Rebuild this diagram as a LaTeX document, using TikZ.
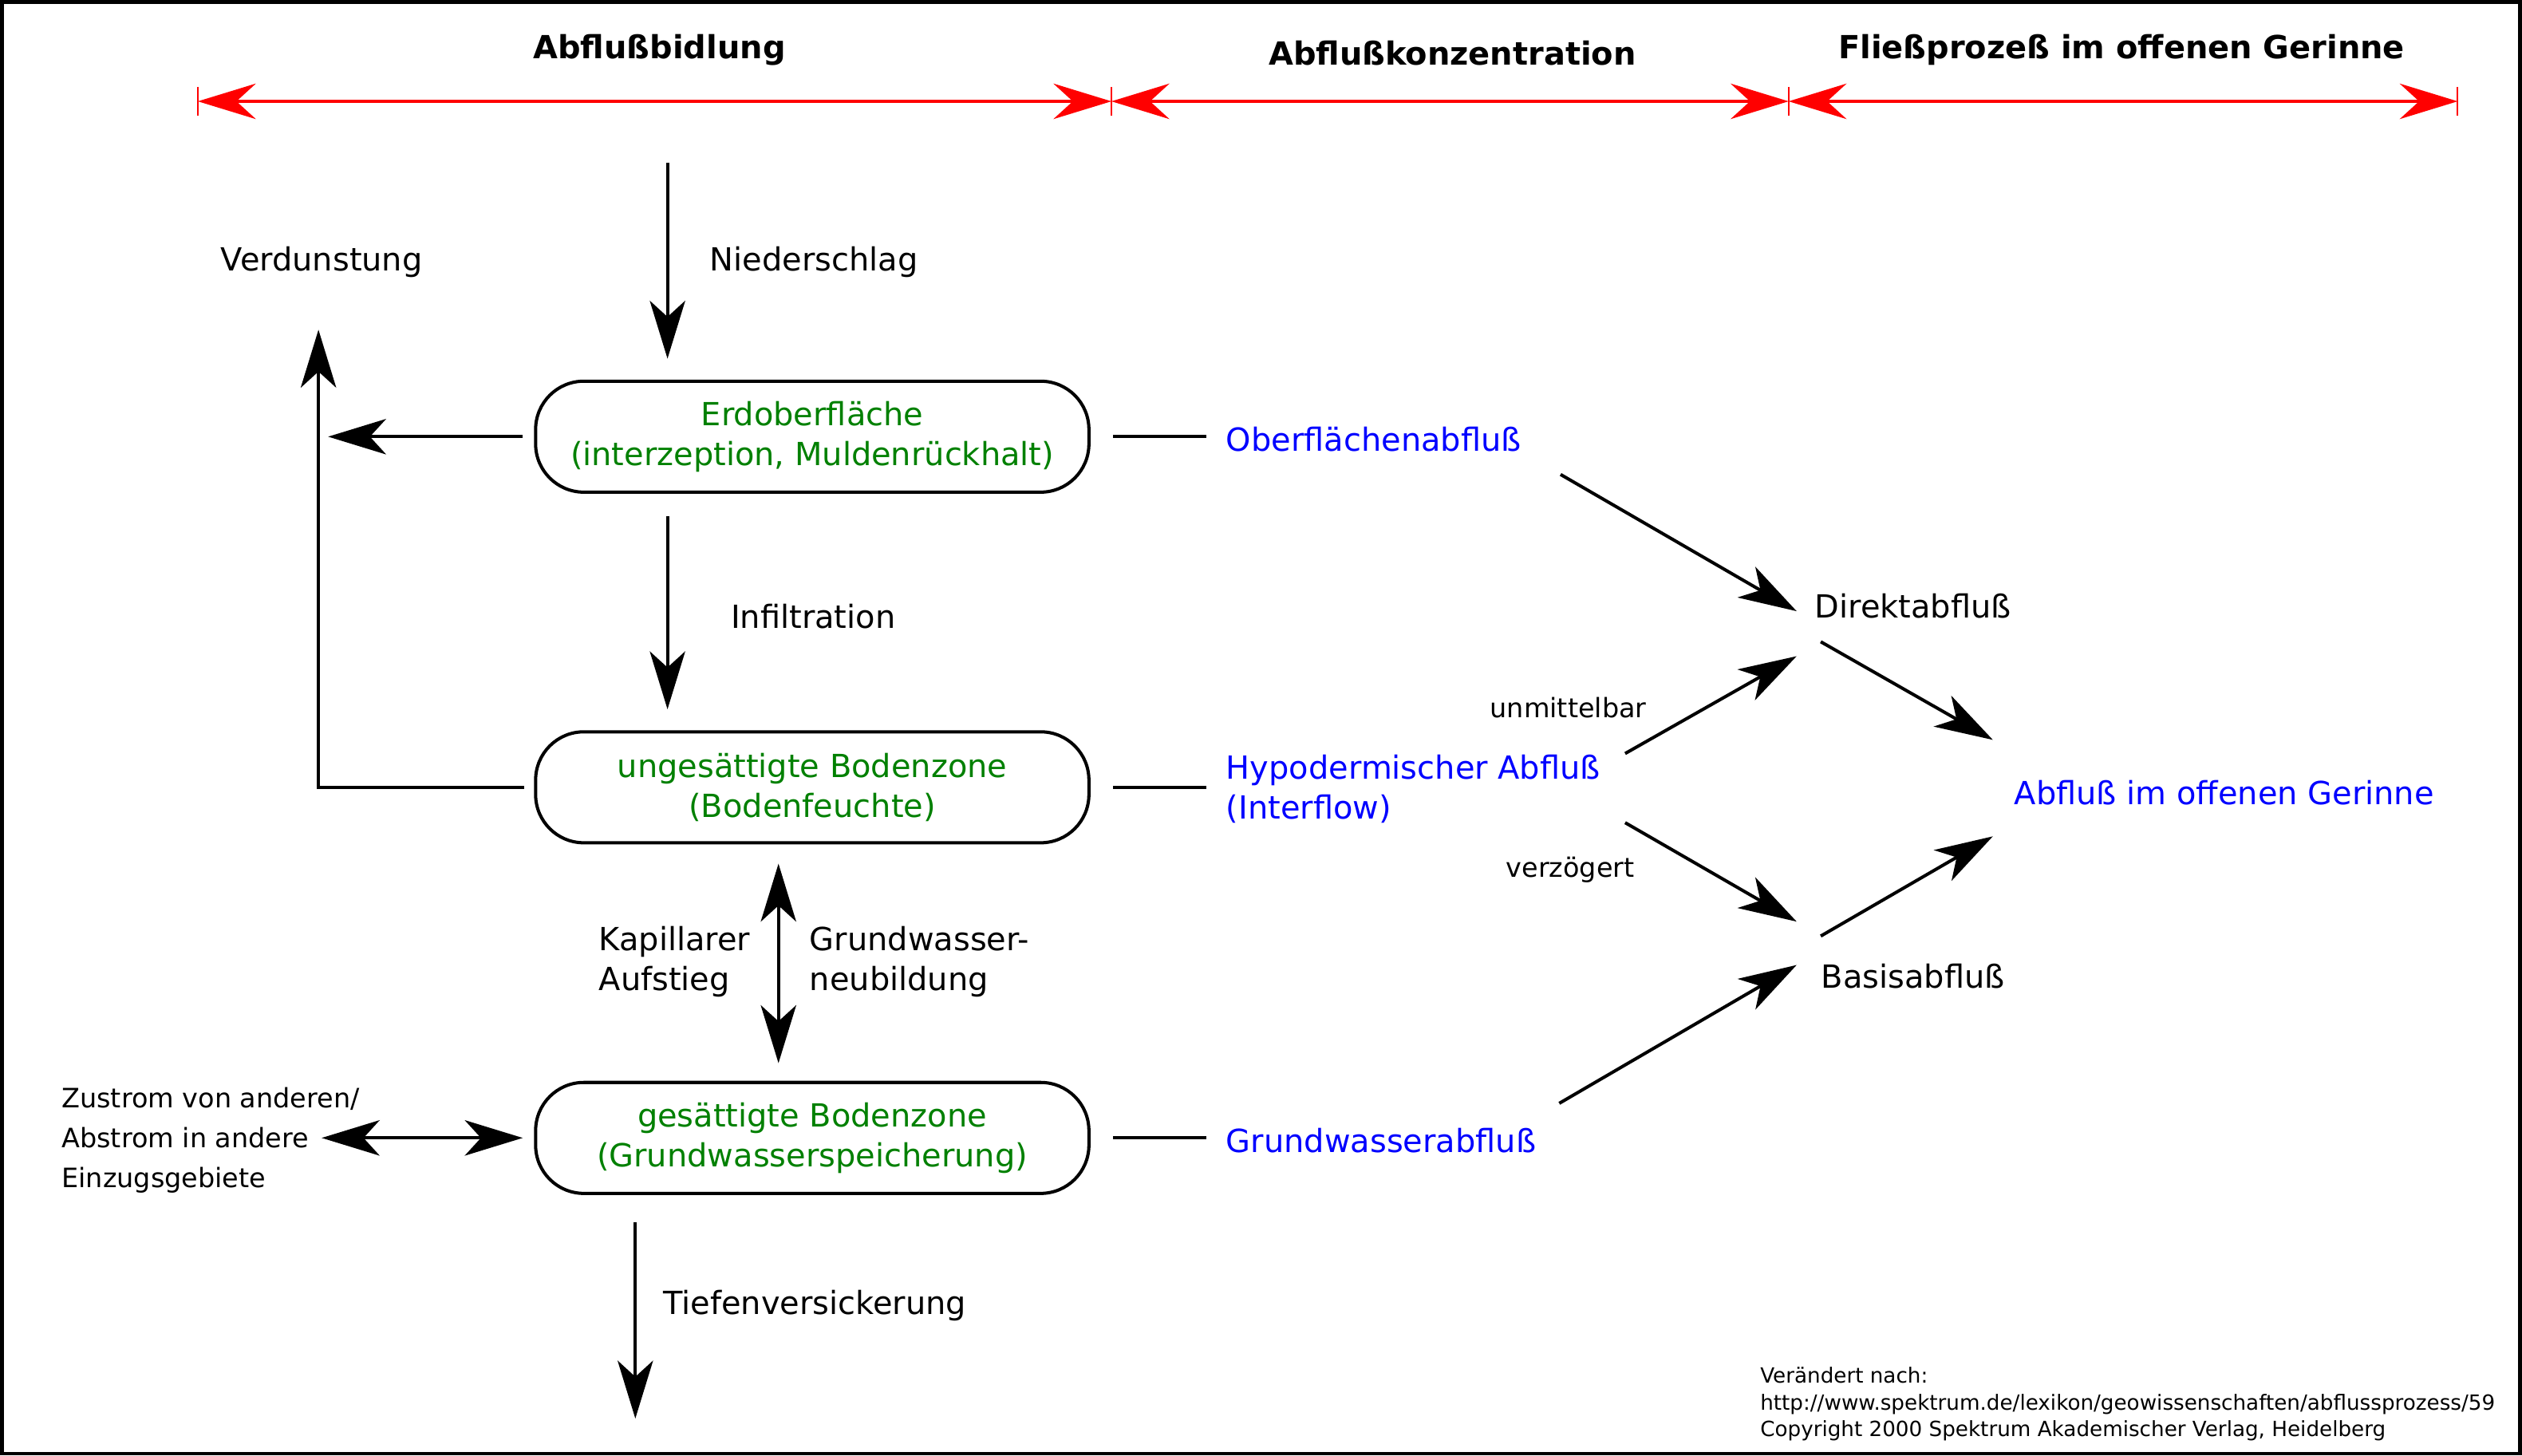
\documentclass[tikz,border=0pt]{standalone}
\usepackage{fontspec}
\setmainfont{DejaVu Sans}
\usepackage{xcolor}
\usetikzlibrary{arrows.meta}
\usetikzlibrary{positioning}
\definecolor{boxgreen}{rgb}{0,0.5,0}
\definecolor{runblue}{rgb}{0,0,1}
\definecolor{zonered}{rgb}{1,0,0}

\begin{document}
\begin{tikzpicture}[x=0.5pt,y=-0.5pt,
    every node/.style={inner sep=0pt,font=\fontsize{9.9pt}{12.5pt}\selectfont},
    head/.style={font=\fontsize{9.9pt}{12.5pt}\selectfont\bfseries},
    small/.style={font=\fontsize{8.3pt}{12.5pt}\selectfont},
    tiny/.style={font=\fontsize{6.5pt}{8.25pt}\selectfont},
    run/.style={text=runblue,align=left},
    zonebox/.style={draw,line width=1pt,rounded corners=15pt,
      minimum width=172pt,minimum height=34.5pt,text=boxgreen,align=center},
    arr/.style={line width=1pt,-{Stealth[length=18pt,width=11pt,inset=5pt]}},
    arr2/.style={line width=1pt,
      {Stealth[length=18pt,width=11pt,inset=5pt]}-{Stealth[length=18pt,width=11pt,inset=5pt]}},
    zone/.style={color=zonered,line width=1pt,
      {Stealth[length=18pt,width=11pt,inset=6pt]}-{Stealth[length=18pt,width=11pt,inset=6pt]}},
    zonetick/.style={color=zonered,line width=0.5pt},
    plain/.style={line width=1pt}]
  \useasboundingbox (0,0) rectangle (1568,905);
  \draw[line width=1.2pt] (1.2,1.2) rectangle (1566.8,903.8);

  % zones
  \node[head] (hdbild) at (410,31) {Abflußbidlung};
  \node[head] (hdkonz) at (903,33) {Abflußkonzentration};
  \node[head] (hdgerinne) at (1319,31) {Fließprozeß im offenen Gerinne};
  \foreach \x/\n in {123/a,691/b,1112/c,1528/d}
    \coordinate (r\n) at (\x,63);
  \draw[zone] (ra) -- (rb);
  \draw[zone] (rb) -- (rc);
  \draw[zone] (rc) -- (rd);
  \foreach \n in {a,b,c,d}
    \draw[zonetick] ([yshift=4.5pt]r\n) -- ([yshift=-4.5pt]r\n);

  % storages
  \node[zonebox] (erd) at (505,271.5) {Erdoberfläche\\(interzeption, Muldenrückhalt)};
  \node[zonebox] (unges) at (505,489.5) {ungesättigte Bodenzone\\(Bodenfeuchte)};
  \node[zonebox] (ges) at (505,707.5) {gesättigte Bodenzone\\(Grundwasserspeicherung)};

  % vertical processes
  \node (verd) at (200,163) {Verdunstung};
  \node[anchor=west] (nied) at (441,163) {Niederschlag};
  \node[anchor=west] (infil) at (454,383) {Infiltration};
  \node[anchor=west,align=left] (kap) at (372,598) {Kapillarer\\Aufstieg};
  \node[anchor=west,align=left] (gwneu) at (503,598) {Grundwasser-\\neubildung};
  \node[anchor=west] (tief) at (412,812) {Tiefenversickerung};
  \node[small,anchor=west,align=left] (zus) at (38,709)
    {Zustrom von anderen/\\Abstrom in andere\\Einzugsgebiete};

  \coordinate (niedtop) at (415,101);
  \coordinate (verdup) at (198,205);
  \coordinate (zusend) at (200,708);
  \coordinate (tiefend) at (395,882);

  \draw[arr,shorten >=6.5pt] (niedtop) -- (niedtop |- erd.north);
  \draw[arr,shorten >=3pt] ([xshift=-3.5pt]erd.west) -- (erd.west -| verdup);
  \draw[arr] ([xshift=-3pt]unges.west) -| (verdup);
  \draw[arr,shorten <=7pt,shorten >=6.5pt] (erd.south -| niedtop) -- (unges.north -| niedtop);
  \draw[arr2,shorten <=6pt,shorten >=5.5pt] ([xshift=-10.5pt]unges.south) -- ([xshift=-10.5pt]ges.north);
  \draw[arr2] (ges.west -| zusend) -- ([xshift=-3.5pt]ges.west);
  \draw[arr,shorten <=8.5pt] (ges.south -| tiefend) -- (tiefend);

  % runoff
  \node[run,anchor=west] (ober) at (762,273) {Oberflächenabfluß};
  \node[run,anchor=west] (hypo) at (762,490.5) {Hypodermischer Abfluß\\(Interflow)};
  \node[run,anchor=west] (gwab) at (762,709) {Grundwasserabfluß};
  \node[anchor=west] (direkt) at (1128,377) {Direktabfluß};
  \node[anchor=west] (basis) at (1132,607) {Basisabfluß};
  \node[small,anchor=west] (unm) at (926,440) {unmittelbar};
  \node[small,anchor=west] (verz) at (936,541) {verzögert};
  \node[run,anchor=west] (gerinne) at (1252,493) {Abfluß im offenen Gerinne};

  \draw[plain] ([xshift=7pt]erd.east) -- ([xshift=-6pt]erd.east -| ober.west);
  \draw[plain] ([xshift=7pt]unges.east) -- ([xshift=-6pt]unges.east -| hypo.west);
  \draw[plain] ([xshift=7pt]ges.east) -- ([xshift=-6pt]ges.east -| gwab.west);

  \draw[arr] ([shift={(24,22)}]ober.east) -- ([shift={(-11,3)}]direkt.west);
  \draw[arr] ([shift={(15,-22)}]hypo.east) -- ([shift={(-11,31)}]direkt.west);
  \draw[arr] ([shift={(15,21)}]hypo.east) -- ([shift={(-15,-34)}]basis.west);
  \draw[arr] ([shift={(14,-23)}]gwab.east) -- ([shift={(-15,-7)}]basis.west);
  \draw[arr] ([shift={(4,22)}]direkt.west) -- ([shift={(-13,-33)}]gerinne.west);
  \draw[arr] ([shift={(0,-25)}]basis.west) -- ([shift={(-13,27)}]gerinne.west);

  % source
  \node[tiny,anchor=west,align=left] (quelle) at (1094,873)
    {Verändert nach:\\http://www.spektrum.de/lexikon/geowissenschaften/abflussprozess/59\\Copyright 2000 Spektrum Akademischer Verlag, Heidelberg};
\end{tikzpicture}
\end{document}
